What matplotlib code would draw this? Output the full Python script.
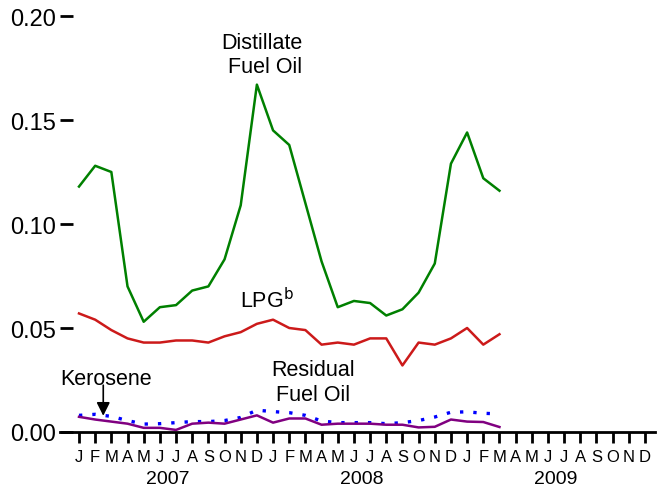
import matplotlib
matplotlib.use("Agg")
import matplotlib.pyplot as plt

plt.rcParams["font.family"] = ["Liberation Sans", "DejaVu Sans"]

months = list("JFMAMJJASOND") * 3
years = ["2007", "2008", "2009"]

distillate = [0.118, 0.128, 0.125, 0.070, 0.053, 0.060, 0.061, 0.068, 0.070, 0.083, 0.109, 0.167,
              0.145, 0.138, 0.110, 0.082, 0.060, 0.063, 0.062, 0.056, 0.059, 0.067, 0.081, 0.129,
              0.144, 0.122, 0.116]
lpg = [0.057, 0.054, 0.049, 0.045, 0.043, 0.043, 0.044, 0.044, 0.043, 0.046, 0.048, 0.052,
       0.054, 0.050, 0.049, 0.042, 0.043, 0.042, 0.045, 0.045, 0.032, 0.043, 0.042, 0.045,
       0.050, 0.042, 0.047]
residual = [0.0073, 0.006, 0.005, 0.004, 0.002, 0.002, 0.001, 0.004, 0.0045, 0.004, 0.006, 0.008,
            0.0045, 0.0065, 0.0065, 0.0035, 0.004, 0.004, 0.004, 0.0035, 0.0035, 0.0022, 0.0025, 0.006,
            0.005, 0.0048, 0.0024]
kerosene = [0.008, 0.0085, 0.0075, 0.0055, 0.0038, 0.004, 0.0045, 0.005, 0.005, 0.0055, 0.007, 0.0105,
            0.0098, 0.0093, 0.008, 0.0053, 0.0045, 0.0045, 0.0045, 0.004, 0.0045, 0.0055, 0.0072, 0.0095,
            0.0097, 0.009, 0.0087]

fig = plt.figure(figsize=(6.65, 4.89), dpi=100)
ax = fig.add_axes([60 / 665, 56 / 489, 595 / 665, 416 / 489])

x = list(range(len(distillate)))
ax.plot(x, distillate, color="#008000", lw=1.8)
ax.plot(x, lpg, color="#cc1a1a", lw=1.8)
ax.plot(x, kerosene, color="#0000ff", lw=2.4, linestyle=(0, (1, 3)))
ax.plot(x, residual, color="#800080", lw=1.8)

ax.set_xlim(-19 / 16.17, 35 + 10 / 16.17)
ax.set_ylim(0, 0.2)
for s in ["left", "right", "top"]:
    ax.spines[s].set_visible(False)
ax.spines["bottom"].set_linewidth(2)

ax.set_yticks([0, 0.05, 0.10, 0.15, 0.20])
ax.set_yticklabels(["0.00", "0.05", "0.10", "0.15", "0.20"], fontsize=17)
ax.tick_params(axis="y", direction="in", length=9, width=2, pad=3)

ax.set_xticks(range(36))
ax.set_xticklabels(months, fontsize=12)
ax.tick_params(axis="x", direction="out", length=8, width=2, pad=4)

for i, yr in enumerate(years):
    ax.text(5.5 + 12 * i, -0.0222, yr, ha="center", va="center", fontsize=14)

ax.text(11.3, 0.1815, "Distillate\n Fuel Oil", ha="center", va="center", fontsize=15.5, linespacing=1.2)
ax.text(11.6, 0.0635, "LPG$^{\\mathrm{b}}$", ha="center", va="center", fontsize=15.5)
ax.text(14.5, 0.0240, "Residual\nFuel Oil", ha="center", va="center", fontsize=15.5, linespacing=1.2)
ax.text(1.7, 0.0255, "Kerosene", ha="center", va="center", fontsize=15.5)
ax.annotate("", xy=(1.5, 0.0078), xytext=(1.5, 0.0225),
            arrowprops=dict(arrowstyle="-|>", color="black", lw=1.2, mutation_scale=20,
                            shrinkA=0, shrinkB=0))

fig.savefig("out.png", dpi=100)
